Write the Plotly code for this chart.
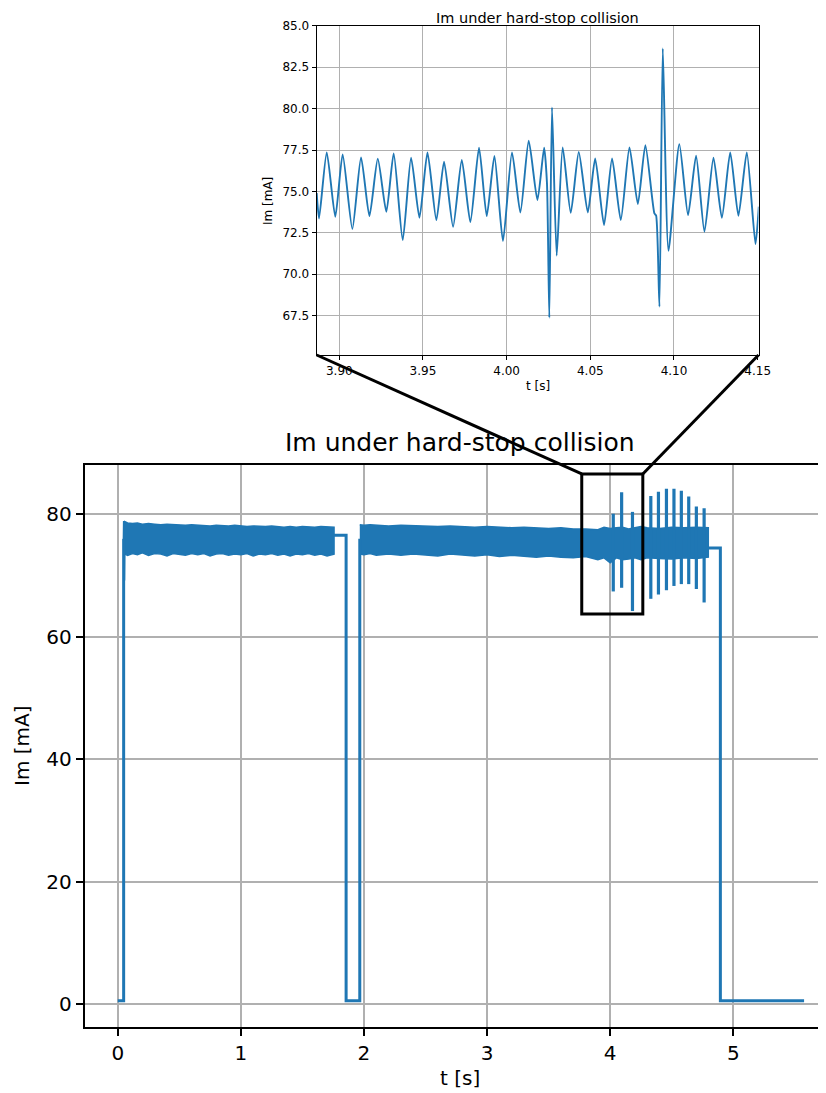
import plotly.graph_objects as go

# ---------------- data ----------------
# main chart: off/on step segments (None separates pieces)
step_t = [0.0, 0.048, 0.048, None, 1.757, 1.855, 1.855, 1.966, 1.966, None, 4.797, 4.895, 4.895, 5.575]
step_v = [0.55, 0.55, 76.0, None, 76.6, 76.6, 0.55, 0.55, 76.0, None, 74.5, 74.5, 0.55, 0.55]

# start transient right after switch-on
rise_t = [0.048, 0.050, 0.053, 0.056]
rise_v = [76.0, 78.9, 69.2, 75.5]

# envelope of the fast oscillation, first run
band1_t = [0.050, 0.08, 0.12, 0.16, 0.2, 0.25, 0.3, 0.35, 0.4, 0.45, 0.5, 0.55, 0.6, 0.65, 0.7, 0.75,
           0.8, 0.85, 0.9, 0.95, 1.0, 1.05, 1.1, 1.15, 1.2, 1.25, 1.3, 1.35, 1.4, 1.45, 1.5, 1.55,
           1.6, 1.65, 1.7, 1.757]
band1_hi = [78.9, 78.6, 78.5, 78.6, 78.4, 78.5, 78.4, 78.3, 78.4, 78.3, 78.3, 78.2, 78.3, 78.2, 78.2, 78.1,
            78.2, 78.1, 78.1, 78.2, 78.1, 78.0, 78.1, 78.0, 78.0, 78.1, 78.0, 77.9, 78.0, 77.9, 78.0, 77.9,
            77.9, 78.0, 77.9, 77.9]
band1_lo = [73.6, 73.3, 73.6, 73.4, 73.7, 73.3, 73.6, 73.5, 73.2, 73.6, 73.5, 73.3, 73.6, 73.4, 73.6, 73.2,
            73.5, 73.6, 73.3, 73.5, 73.4, 73.6, 73.2, 73.5, 73.4, 73.6, 73.3, 73.5, 73.2, 73.5, 73.4, 73.6,
            73.3, 73.5, 73.2, 73.5]

# envelope of the fast oscillation, second run
band2_t = [1.966, 2.0, 2.05, 2.1, 2.2, 2.3, 2.4, 2.5, 2.6, 2.7, 2.8, 2.9, 3.0, 3.1, 3.2, 3.3, 3.4,
           3.5, 3.6, 3.7, 3.8, 3.9, 3.95, 4.0, 4.05, 4.1, 4.15, 4.2, 4.25, 4.3, 4.4, 4.5, 4.6, 4.7, 4.797]
band2_hi = [78.3, 78.2, 78.3, 78.2, 78.1, 78.2, 78.1, 78.1, 78.0, 78.1, 78.0, 77.9, 78.0, 77.9, 77.8, 77.9, 77.8,
            77.7, 77.8, 77.6, 77.6, 77.5, 77.9, 77.7, 77.8, 77.9, 77.6, 77.8, 78.0, 77.8, 77.7, 77.9, 77.8, 77.9, 77.8]
band2_lo = [73.5, 73.4, 73.6, 73.3, 73.5, 73.3, 73.5, 73.4, 73.2, 73.5, 73.3, 73.2, 73.4, 73.1, 73.3, 73.2, 73.0,
            73.2, 73.0, 72.9, 73.1, 72.6, 72.9, 72.1, 72.9, 72.6, 72.7, 72.9, 72.6, 72.9, 72.8, 72.7, 72.9, 72.8, 73.0]

# collision spikes (time, max, min)
spike_t = [4.025, 4.093, 4.181, 4.330, 4.392, 4.457, 4.518, 4.578, 4.638, 4.700, 4.763]
spike_hi = [80.1, 83.6, 80.4, 83.0, 83.7, 84.2, 84.2, 83.85, 82.9, 81.3, 81.0]
spike_lo = [67.4, 68.0, 64.2, 66.2, 66.9, 67.6, 68.3, 68.6, 68.6, 67.8, 65.6]

# zoom box drawn on the main chart
box_t = [3.769, 4.265]
box_v = [63.7, 86.6]

# inset: detailed waveform between 3.89 s and 4.15 s
inset_t = [3.8865, 3.8879, 3.8925, 3.8976, 3.9020, 3.9078, 3.9130, 3.9180, 3.9230, 3.9281,
           3.9325, 3.9379, 3.9429, 3.9479, 3.9527, 3.9580, 3.9626, 3.9680, 3.9732, 3.9783,
           3.9835, 3.9881, 3.9927, 3.9978, 4.0032, 4.0082, 4.0132, 4.0184, 4.0224, 4.0241,
           4.0255, 4.0271, 4.0299, 4.0335, 4.0383, 4.0431, 4.0485, 4.0529, 4.0582, 4.0630,
           4.0682, 4.0734, 4.0784, 4.0829, 4.0883, 4.0893, 4.0913, 4.0933, 4.0967, 4.1032,
           4.1084, 4.1132, 4.1182, 4.1236, 4.1286, 4.1336, 4.1385, 4.1435, 4.1487, 4.1507]
inset_v = [74.9, 73.37, 77.36, 73.47, 77.24, 72.73, 77.06, 73.51, 76.98, 73.77,
           77.30, 72.06, 77.04, 73.41, 77.36, 73.27, 76.80, 72.87, 76.90, 73.15,
           77.64, 73.51, 77.14, 72.00, 77.36, 73.73, 78.06, 74.48, 77.64, 75.5,
           67.37, 80.08, 71.12, 77.66, 73.71, 77.38, 73.73, 76.99, 72.97, 76.99,
           73.27, 77.66, 74.24, 77.80, 73.67, 73.55, 68.04, 83.64, 71.42, 77.86,
           73.57, 77.16, 72.56, 77.04, 73.41, 77.36, 73.53, 77.36, 71.82, 74.08]

main_xticks = [0, 1, 2, 3, 4, 5]
main_yticks = [0, 20, 40, 60, 80]
inset_xticks = [3.90, 3.95, 4.00, 4.05, 4.10, 4.15]
inset_yticks = [67.5, 70.0, 72.5, 75.0, 77.5, 80.0, 82.5, 85.0]

TITLE = "Im under hard-stop collision"
XLABEL = "t [s]"
YLABEL = "Im [mA]"

# ---------------- layout geometry ----------------
W, H = 826, 1093
OFF = 8          # the page body adds an 8 px margin
BLUE = "#1f77b4"
GRID = "#b0b0b0"
FONT = "DejaVu Sans"


def pxx(X):
    return (X - OFF) / W


def pxy(Y):
    return (H - (Y - OFF)) / H


mx_dom = [pxx(84.5), 1.0]
my_dom = [pxy(1026.7), pxy(465)]
mx_rng = [-0.27, 5.818]
my_rng = [-3.71, 88.06]

ix_dom = [pxx(316.7), pxx(758.5)]
iy_dom = [pxy(355), pxy(25.9)]
ix_rng = [3.8865, 4.1505]
iy_rng = [65.12, 85.0]


def main_paper(t, v):
    px = mx_dom[0] + (t - mx_rng[0]) / (mx_rng[1] - mx_rng[0]) * (mx_dom[1] - mx_dom[0])
    py = my_dom[0] + (v - my_rng[0]) / (my_rng[1] - my_rng[0]) * (my_dom[1] - my_dom[0])
    return px, py


fig = go.Figure()

# bands as filled envelopes
for bt, bh, bl in [(band1_t, band1_hi, band1_lo), (band2_t, band2_hi, band2_lo)]:
    fig.add_trace(go.Scatter(x=bt + bt[::-1], y=bh + bl[::-1], mode="lines", fill="toself",
                             fillcolor=BLUE, line=dict(color=BLUE, width=1.5),
                             xaxis="x", yaxis="y", showlegend=False, hoverinfo="skip"))

fig.add_trace(go.Scatter(x=step_t, y=step_v, mode="lines", line=dict(color=BLUE, width=3),
                         xaxis="x", yaxis="y", showlegend=False, connectgaps=False))
fig.add_trace(go.Scatter(x=rise_t, y=rise_v, mode="lines", line=dict(color=BLUE, width=2),
                         xaxis="x", yaxis="y", showlegend=False))

sx, sy = [], []
for t, hi, lo in zip(spike_t, spike_hi, spike_lo):
    sx += [t, t, None]
    sy += [lo, hi, None]
fig.add_trace(go.Scatter(x=sx, y=sy, mode="lines", line=dict(color=BLUE, width=3.2),
                         xaxis="x", yaxis="y", showlegend=False, connectgaps=False))

# inset trace
fig.add_trace(go.Scatter(x=inset_t, y=inset_v, mode="lines",
                         line=dict(color=BLUE, width=1.9, shape="spline", smoothing=0.6),
                         xaxis="x2", yaxis="y2", showlegend=False))

axis_common = dict(showgrid=True, gridcolor=GRID, zeroline=False, ticks="outside",
                   tickcolor="black", showline=True, linecolor="black")

fig.update_layout(
    width=W, height=H, margin=dict(l=0, r=0, t=0, b=0, autoexpand=False),
    paper_bgcolor="white", plot_bgcolor="white",
    font=dict(family=FONT, color="black"),
    xaxis=dict(domain=mx_dom, range=mx_rng, tickvals=main_xticks, gridwidth=1.6,
               ticklen=7, tickwidth=1.6, linewidth=1.6, mirror=True,
               tickfont=dict(size=20), anchor="y", **axis_common),
    yaxis=dict(domain=my_dom, range=my_rng, tickvals=main_yticks, gridwidth=1.6,
               ticklen=7, tickwidth=1.6, linewidth=1.6, mirror=False,
               tickfont=dict(size=20), anchor="x", **axis_common),
    xaxis2=dict(domain=ix_dom, range=ix_rng, tickvals=inset_xticks, tickformat=".2f",
                gridwidth=1.1, ticklen=4, tickwidth=1.1, linewidth=1.3, mirror=True,
                tickfont=dict(size=12), anchor="y2", **axis_common),
    yaxis2=dict(domain=iy_dom, range=iy_rng, tickvals=inset_yticks, tickformat=".1f",
                gridwidth=1.1, ticklen=4, tickwidth=1.1, linewidth=1.3, mirror=True,
                tickfont=dict(size=12), anchor="x2", **axis_common),
)

# zoom box on main chart
fig.add_shape(type="rect", xref="x", yref="y", x0=box_t[0], x1=box_t[1], y0=box_v[0], y1=box_v[1],
              line=dict(color="black", width=3), layer="above")

# connectors from inset corners to box corners
tl = main_paper(box_t[0], box_v[1])
tr = main_paper(box_t[1], box_v[1])
fig.add_shape(type="line", xref="paper", yref="paper", x0=ix_dom[0], y0=iy_dom[0], x1=tl[0], y1=tl[1],
              line=dict(color="black", width=3), layer="above")
fig.add_shape(type="line", xref="paper", yref="paper", x0=ix_dom[1], y0=iy_dom[0], x1=tr[0], y1=tr[1],
              line=dict(color="black", width=3), layer="above")

ann = [
    dict(text=TITLE, x=pxx(460), y=pxy(443), font=dict(size=25), yanchor="middle"),
    dict(text=XLABEL, x=pxx(460), y=pxy(1078), font=dict(size=20), yanchor="middle"),
    dict(text=YLABEL, x=pxx(22), y=pxy(746), font=dict(size=20), textangle=-90, yanchor="middle"),
    dict(text=TITLE, x=pxx(537.6), y=1.0, font=dict(size=14.5), yanchor="top"),
    dict(text=XLABEL, x=pxx(537.6), y=pxy(386), font=dict(size=12), yanchor="middle"),
    dict(text=YLABEL, x=pxx(268), y=pxy(201), font=dict(size=12), textangle=-90, yanchor="middle"),
]
for a in ann:
    fig.add_annotation(xref="paper", yref="paper", showarrow=False, xanchor="center", **a)

fig.write_html("out.html")
